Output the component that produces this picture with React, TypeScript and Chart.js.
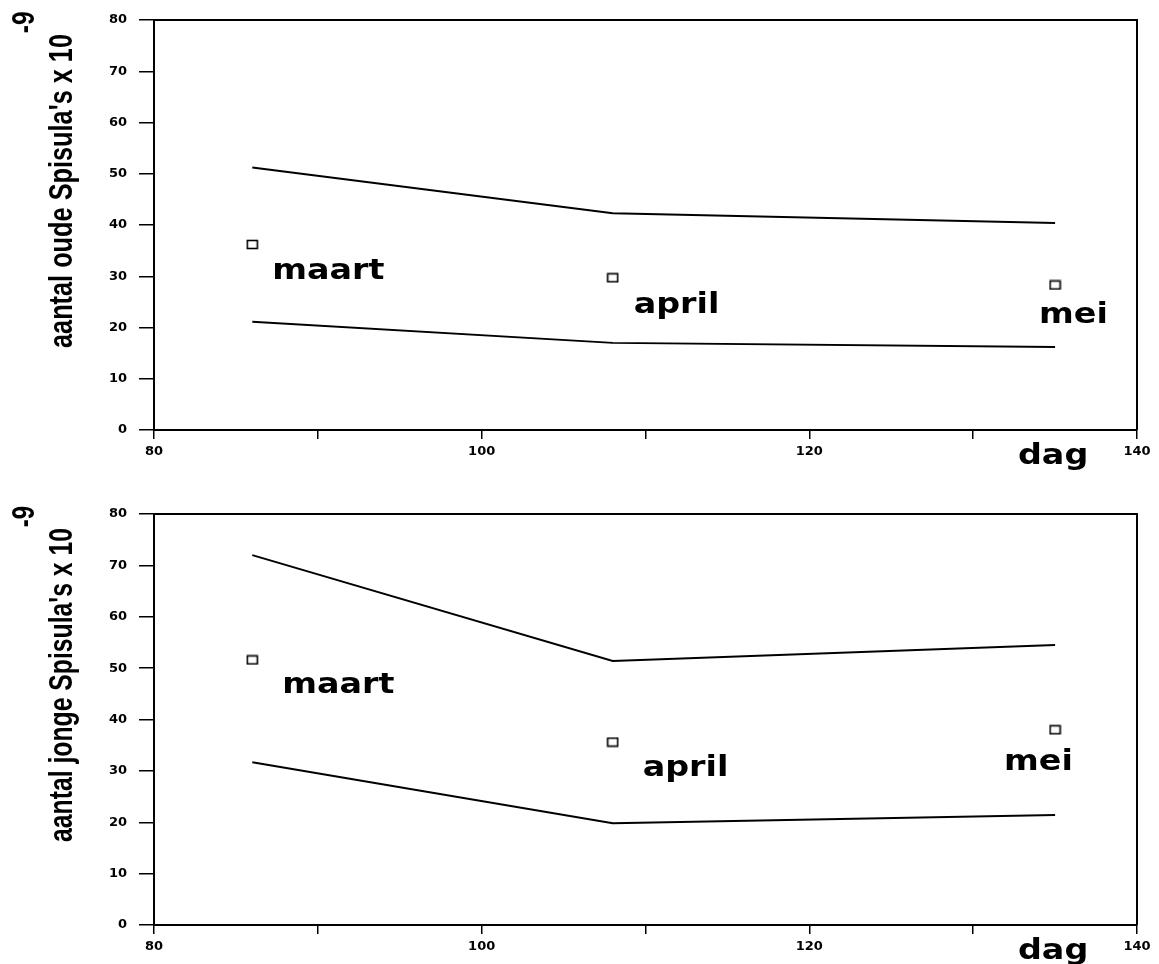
import React, { useEffect, useRef } from 'react';
import { Chart, registerables } from 'chart.js';

Chart.register(...registerables);

// ---- data ----
const days = [86, 108, 135];
const months = ['maart', 'april', 'mei'];

const oudeMean = [36.2, 29.7, 28.3];
const oudeUpper = [51.2, 42.3, 40.4];
const oudeLower = [21.1, 17.0, 16.2];

const jongeMean = [51.6, 35.6, 38.0];
const jongeUpper = [72.0, 51.4, 54.5];
const jongeLower = [31.7, 19.8, 21.4];

const xMin = 80;
const xMax = 140;
const xStep = 10;
const xLabelEvery = 20;
const yMin = 0;
const yMax = 80;
const yStep = 10;

const oudeTitle = "aantal oude Spisula's x 10";
const jongeTitle = "aantal jonge Spisula's x 10";
const exponent = '-9';
const xTitle = 'dag';

function makeBox(): HTMLCanvasElement {
  const c = document.createElement('canvas');
  c.width = 13;
  c.height = 11;
  const ctx = c.getContext('2d')!;
  ctx.strokeStyle = '#000';
  ctx.lineWidth = 1.6;
  ctx.strokeRect(1.5, 1.5, 10, 8);
  return c;
}

type PanelProps = {
  title: string;
  mean: number[];
  upper: number[];
  lower: number[];
  top: number;
  height: number;
  padTop: number;
  xAxisHeight: number;
  labelOffsets: number[][];
};

function Panel(props: PanelProps) {
  const ref = useRef<HTMLCanvasElement>(null);
  useEffect(() => {
    const { title, mean, upper, lower, padTop, xAxisHeight, labelOffsets } = props;
    const box = makeBox();
    const overlay = {
      id: 'overlay',
      afterDraw(chart: any) {
        const ctx = chart.ctx as CanvasRenderingContext2D;
        const a = chart.chartArea;
        const xs = chart.scales.x;
        const ys = chart.scales.y;
        ctx.save();
        ctx.strokeStyle = '#000';
        ctx.lineWidth = 2;
        ctx.beginPath();
        ctx.moveTo(a.left, a.top);
        ctx.lineTo(a.right, a.top);
        ctx.lineTo(a.right, a.bottom);
        ctx.stroke();

        ctx.fillStyle = '#000';
        ctx.textAlign = 'left';
        ctx.textBaseline = 'alphabetic';
        ctx.font = 'bold 29px "DejaVu Sans"';
        months.forEach((m, i) => {
          const px = xs.getPixelForValue(days[i]) + labelOffsets[i][0];
          const py = ys.getPixelForValue(mean[i]) + labelOffsets[i][1];
          ctx.save();
          ctx.translate(px, py);
          ctx.scale(1.15, 1);
          ctx.fillText(m, 0, 0);
          ctx.restore();
        });

        ctx.save();
        ctx.translate(a.right - 119, a.bottom + 34);
        ctx.scale(1.15, 1);
        ctx.fillText(xTitle, 0, 0);
        ctx.restore();

        ctx.font = 'bold 33px "Liberation Sans"';
        const w = ctx.measureText(title).width;
        const k = 314 / w;
        ctx.save();
        ctx.translate(a.left - 82, a.top + 328);
        ctx.rotate(-Math.PI / 2);
        ctx.scale(k, 1);
        ctx.fillText(title, 0, 0);
        ctx.font = 'bold 32px "Liberation Sans"';
        ctx.fillText(exponent, w + 1, -38);
        ctx.restore();

        ctx.restore();
      },
    };

    const chart = new Chart(ref.current!, {
      type: 'scatter',
      data: {
        datasets: [
          {
            data: days.map((d, i) => ({ x: d, y: upper[i] })),
            showLine: true,
            borderColor: '#000',
            borderWidth: 2,
            pointRadius: 0,
            tension: 0,
            fill: false,
          },
          {
            data: days.map((d, i) => ({ x: d, y: lower[i] })),
            showLine: true,
            borderColor: '#000',
            borderWidth: 2,
            pointRadius: 0,
            tension: 0,
            fill: false,
          },
          {
            data: days.map((d, i) => ({ x: d, y: mean[i] })),
            showLine: false,
            pointStyle: box as any,
            pointRadius: 6,
            borderColor: '#000',
            backgroundColor: 'transparent',
          },
        ],
      },
      options: {
        animation: false,
        responsive: false,
        devicePixelRatio: 1,
        layout: { padding: { top: padTop, right: 22, left: 0, bottom: 0 } },
        plugins: { legend: { display: false }, tooltip: { enabled: false } },
        events: [],
        scales: {
          x: {
            type: 'linear',
            min: xMin,
            max: xMax,
            afterFit: (s: any) => {
              s.height = xAxisHeight;
            },
            border: { display: true, color: '#000', width: 2 },
            grid: { drawOnChartArea: false, drawTicks: true, tickLength: 9, color: '#000', lineWidth: 1.5 },
            ticks: {
              stepSize: xStep,
              autoSkip: false,
              maxRotation: 0,
              padding: 5,
              color: '#000',
              font: { family: '"DejaVu Sans"', size: 13, weight: 'bold' },
              callback: (v: any) => (Number(v) % xLabelEvery === 0 ? String(v) : ''),
            },
          },
          y: {
            type: 'linear',
            min: yMin,
            max: yMax,
            afterFit: (s: any) => {
              s.width = 154;
            },
            border: { display: true, color: '#000', width: 2 },
            grid: { drawOnChartArea: false, drawTicks: true, tickLength: 15, color: '#000', lineWidth: 1.5 },
            ticks: {
              stepSize: yStep,
              padding: 12,
              color: '#000',
              font: { family: '"DejaVu Sans"', size: 13, weight: 'bold' },
            },
          },
        },
      },
      plugins: [overlay],
    } as any);
    return () => chart.destroy();
  }, []);
  return (
    <canvas
      ref={ref}
      width={1159}
      height={props.height}
      style={{ position: 'absolute', left: 0, top: props.top, width: 1159, height: props.height }}
    />
  );
}

export default function App() {
  return (
    <div style={{ position: 'absolute', left: 0, top: 0, width: 1159, height: 964, background: '#fff' }}>
      <Panel
        title={oudeTitle}
        mean={oudeMean}
        upper={oudeUpper}
        lower={oudeLower}
        top={0}
        height={482}
        padTop={20}
        xAxisHeight={52}
        labelOffsets={[[20, 34.5], [21, 35], [-16, 38]]}
      />
      <Panel
        title={jongeTitle}
        mean={jongeMean}
        upper={jongeUpper}
        lower={jongeLower}
        top={482}
        height={482}
        padTop={32}
        xAxisHeight={39}
        labelOffsets={[[30, 33], [30, 34], [-51, 40]]}
      />
    </div>
  );
}
